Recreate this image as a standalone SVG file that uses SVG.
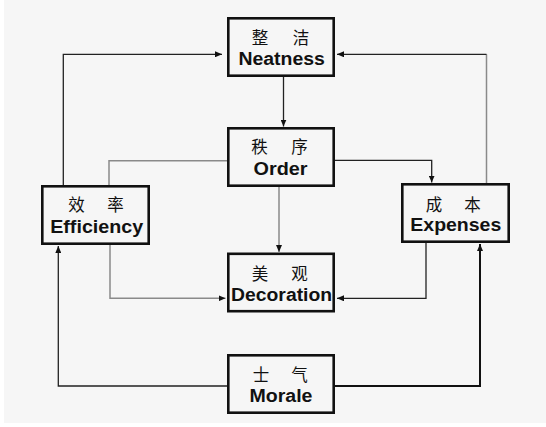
<svg xmlns="http://www.w3.org/2000/svg" width="546" height="427" viewBox="0 0 546 427">
  <style>
    .box { fill: none; stroke: #111; stroke-width: 2.6; }
    .cn { font-family: "Noto Sans CJK SC", "Noto Sans CJK JP", sans-serif; font-size: 16.5px; fill: #111; text-anchor: middle; }
    .en { font-family: "Liberation Sans", Arial, sans-serif; font-size: 18px; font-weight: bold; fill: #111; text-anchor: middle; }
    .ln { fill: none; stroke: #222; stroke-width: 1.3; }
    .lg { fill: none; stroke: #8a8a8a; stroke-width: 1.5; }
    .lt { fill: none; stroke: #111; stroke-width: 2; }
  </style>
  <defs>
    <marker id="ah" markerUnits="userSpaceOnUse" markerWidth="7" markerHeight="6" refX="7" refY="3" orient="auto">
      <path d="M0,0 L7,3 L0,6 z" fill="#111"/>
    </marker>
  </defs>
  <rect x="0" y="0" width="546" height="427" fill="#ffffff"/>
  <rect x="4" y="0" width="542" height="423" fill="#f6f6f6"/>

  <g id="connectors">
    <path class="ln" d="M283.5,77 V126.5" marker-end="url(#ah)"/>
    <path class="lg" d="M279,187 V252" marker-end="url(#ah)"/>
    <path class="ln" d="M63.3,185 V54.3 H222" marker-end="url(#ah)"/>
    <path class="lg" d="M486.5,183 V54.3"/>
    <path class="ln" d="M486.5,54.3 H337" marker-end="url(#ah)"/>
    <path class="lg" d="M227,160.7 H109 V185"/>
    <path class="ln" d="M335,160.3 H431.7 V182.5" marker-end="url(#ah)"/>
    <path class="lg" d="M110,245 V298.3 H225.5" marker-end="url(#ah)"/>
    <path class="ln" d="M426,243 V298.3 H337" marker-end="url(#ah)"/>
    <path class="ln" d="M227,386 H58.3 V246" marker-end="url(#ah)"/>
    <path class="lt" d="M335,386 H480 V244" marker-end="url(#ah)"/>
  </g>

  <g id="neatness">
    <rect class="box" x="228.3" y="18.3" width="105.4" height="57.4"/>
    <text class="cn" x="260 281 301" y="43.5">整 洁</text>
    <text class="en" x="281.7" y="65" textLength="86.5" lengthAdjust="spacingAndGlyphs">Neatness</text>
  </g>

  <g id="order">
    <rect class="box" x="228.3" y="128.3" width="105.4" height="57.4"/>
    <text class="cn" x="259.5 280 299.5" y="152.5">秩 序</text>
    <text class="en" x="280.5" y="174.5" textLength="54" lengthAdjust="spacingAndGlyphs">Order</text>
  </g>

  <g id="efficiency">
    <rect class="box" x="42.3" y="186.3" width="106.4" height="57.4"/>
    <text class="cn" x="76.5 96 115.5" y="211">效 率</text>
    <text class="en" x="96.7" y="233" textLength="93" lengthAdjust="spacingAndGlyphs">Efficiency</text>
  </g>

  <g id="expenses">
    <rect class="box" x="402.3" y="184.3" width="106.4" height="57.4"/>
    <text class="cn" x="434 453 472.5" y="210.5">成 本</text>
    <text class="en" x="455.8" y="231" textLength="91" lengthAdjust="spacingAndGlyphs">Expenses</text>
  </g>

  <g id="decoration">
    <rect class="box" x="228.3" y="253.8" width="105.4" height="57.4"/>
    <text class="cn" x="260 280 299.5" y="279.5">美 观</text>
    <text class="en" x="281.6" y="300.5" textLength="101" lengthAdjust="spacingAndGlyphs">Decoration</text>
  </g>

  <g id="morale">
    <rect class="box" x="228.3" y="355.3" width="105.4" height="57.4"/>
    <text class="cn" x="261 280 299.5" y="381">士 气</text>
    <text class="en" x="281" y="401.5" textLength="63" lengthAdjust="spacingAndGlyphs">Morale</text>
  </g>
</svg>
